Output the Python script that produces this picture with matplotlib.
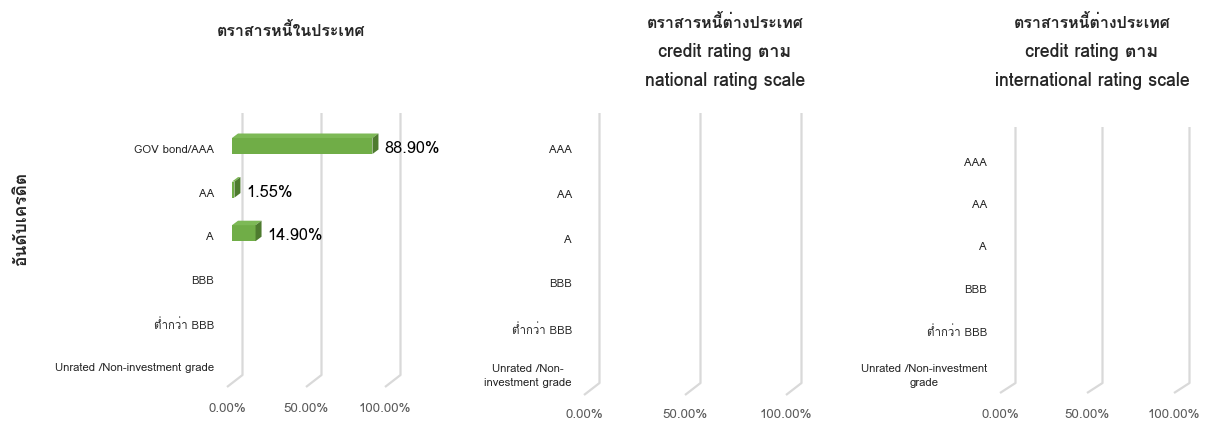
import matplotlib
matplotlib.use('Agg')
import matplotlib.pyplot as plt
from matplotlib import font_manager, ft2font
from matplotlib.patches import Polygon, Rectangle
import numpy as np

W, H = 1205, 422


def find_thai_font():
    # pick an installed family that actually has Thai glyphs
    for f in font_manager.fontManager.ttflist:
        try:
            cmap = ft2font.FT2Font(f.fname).get_charmap()
        except Exception:
            continue
        if 0x0E15 in cmap and 0x0041 in cmap:
            return f.name
    return 'DejaVu Sans'


THAI = find_thai_font()
plt.rcParams['font.family'] = [THAI, 'DejaVu Sans']

# ---- data ----
titles = ['ตราสารหนี้ในประเทศ',
          'ตราสารหนี้ต่างประเทศ\ncredit rating ตาม\nnational rating scale',
          'ตราสารหนี้ต่างประเทศ\ncredit rating ตาม\ninternational rating scale']
cats_local = ['GOV bond/AAA', 'AA', 'A', 'BBB', 'ต่ำกว่า BBB', 'Unrated /Non-investment grade']
cats_national = ['AAA', 'AA', 'A', 'BBB', 'ต่ำกว่า BBB', 'Unrated /Non-\ninvestment grade']
cats_intl = ['AAA', 'AA', 'A', 'BBB', 'ต่ำกว่า BBB', 'Unrated /Non-investment\ngrade']
vals_local = [88.90, 1.55, 14.90, np.nan, np.nan, np.nan]
vals_national = [np.nan] * 6
vals_intl = [np.nan] * 6
x_ticks = [0, 50, 100]
x_ticklabels = ['0.00%', '50.00%', '100.00%']
y_label = 'อันดับเครดิต'

# ---- layout (pixels) ----
# x0: front floor 0%, s: px per 100%, y0: first category, sp: px per category
panels = [
    dict(cats=cats_local, vals=vals_local, title=titles[0],
         l=220, r=450, t=100, b=400, x0=227, s=158, y0=149, sp=43.6,
         top=113, back_bot=375, front_bot=387, tick_y=409, lab_r=214,
         title_x=291, title_y=30),
    dict(cats=cats_national, vals=vals_national, title=titles[1],
         l=578, r=840, t=100, b=405, x0=584, s=202, y0=149, sp=44.8,
         top=113, back_bot=383, front_bot=395, tick_y=415, lab_r=572,
         title_x=725, title_y=23),
    dict(cats=cats_intl, vals=vals_intl, title=titles[2],
         l=993, r=1205, t=110, b=405, x0=1000, s=174, y0=162, sp=42.2,
         top=127, back_bot=383, front_bot=393, tick_y=415, lab_r=987,
         title_x=1092, title_y=23),
]

GREEN = '#70AD47'
GREEN_TOP = '#7DB956'
GREEN_SIDE = '#4E7B2F'
GRID = '#D9D9D9'

fig = plt.figure(figsize=(W / 100, H / 100), dpi=100)

for p in panels:
    ax = fig.add_axes([p['l'] / W, 1 - p['b'] / H,
                       (p['r'] - p['l']) / W, (p['b'] - p['t']) / H])
    s, sp = p['s'], p['sp']
    ax.set_xlim((p['l'] - p['x0']) * 100 / s, (p['r'] - p['x0']) * 100 / s)
    ax.set_ylim((p['b'] - p['y0']) / sp, (p['t'] - p['y0']) / sp)
    for sp_ in ax.spines.values():
        sp_.set_visible(False)
    ax.set_xticks([])

    dx = 100 / s  # percent per pixel
    dy = 1 / sp   # category per pixel

    # back-wall gridlines with a slanted floor foot
    for v, lab in zip(x_ticks, x_ticklabels):
        bx = v + 15.5 * dx
        ax.plot([bx, bx, v], [(p['top'] - p['y0']) * dy, (p['back_bot'] - p['y0']) * dy,
                              (p['front_bot'] - p['y0']) * dy],
                color=GRID, lw=1.6, solid_capstyle='butt', zorder=1, clip_on=False)
        ax.text(v, (p['tick_y'] - p['y0']) * dy, lab,
                ha='center', va='center', fontsize=9.6, color='#595959')

    # 3d-ish bars
    n = len(p['cats'])
    for i, v in enumerate(p['vals']):
        if np.isnan(v):
            continue
        x_start = 5 * dx
        yc = i - 3 * dy
        h = 16 * dy
        ytop, ybot = yc - h / 2, yc + h / 2
        ox, oy = 6 * dx, -4.5 * dy
        ax.add_patch(Rectangle((x_start, ytop), v, h, facecolor=GREEN,
                               edgecolor='none', zorder=3))
        ax.add_patch(Polygon([(x_start, ytop), (x_start + v, ytop),
                              (x_start + v + ox, ytop + oy), (x_start + ox, ytop + oy)],
                             closed=True, facecolor=GREEN_TOP, edgecolor='none', zorder=3))
        ax.add_patch(Polygon([(x_start + v, ytop), (x_start + v + ox, ytop + oy),
                              (x_start + v + ox, ybot + oy), (x_start + v, ybot)],
                             closed=True, facecolor=GREEN_SIDE, edgecolor='none', zorder=3))
        ax.text(x_start + v + 12 * dx, i, f'{v:.2f}%', ha='left', va='center',
                fontsize=11.8, color='black', zorder=4)

    ax.set_yticks(range(n))
    ax.set_yticklabels(p['cats'], fontsize=8.2, color='#262626',
                       multialignment='center', linespacing=1.55)
    ax.tick_params(axis='y', length=0, pad=(p['l'] - p['lab_r']) * 0.72)

    # title lines
    for k, line in enumerate(p['title'].split('\n')):
        fig.text(p['title_x'] / W, 1 - (p['title_y'] + 29 * k) / H, line,
                 ha='center', va='center', fontsize=11.5 if k == 0 else 12.8,
                 fontweight='bold', color='#262626')

fig.text(22 / W, 1 - 219 / H, y_label, rotation=90, ha='center', va='center',
         fontsize=12.5, fontweight='bold', color='#262626')

fig.savefig('out.png', dpi=100)
